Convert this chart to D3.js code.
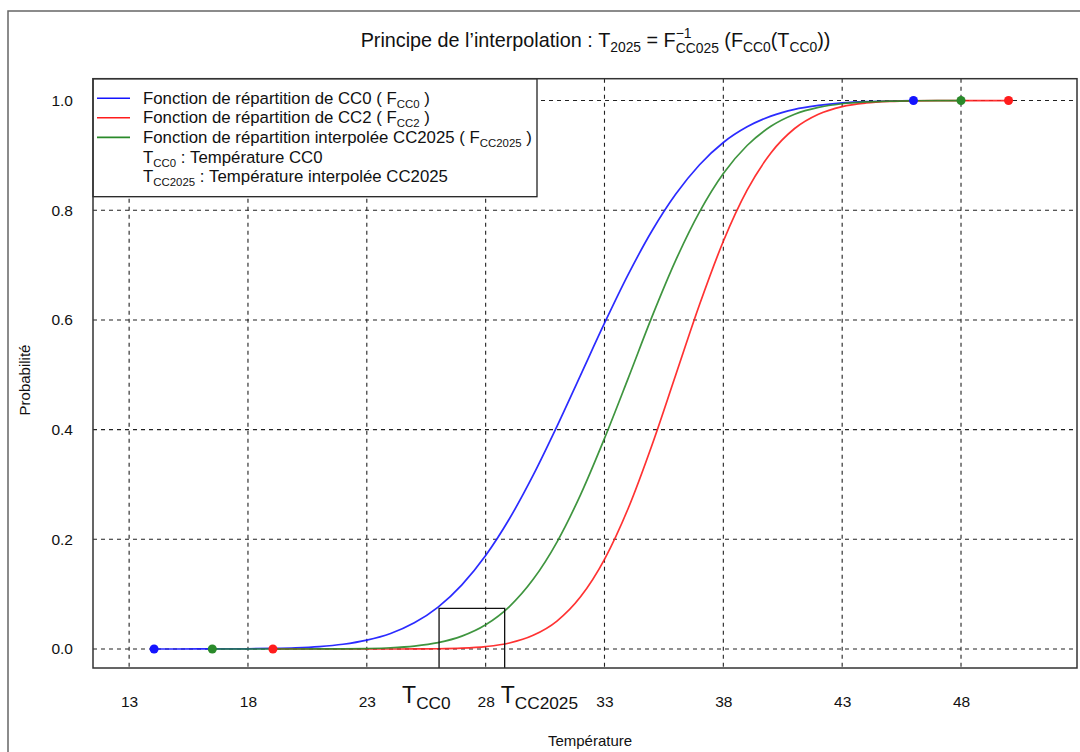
<!DOCTYPE html>
<html>
<head>
<meta charset="utf-8">
<script src="https://cdn.jsdelivr.net/npm/d3@7/dist/d3.min.js"></script>
<style>
  body { margin: 0; background: #fff; }
  text { font-family: "Liberation Sans", Arial, sans-serif; fill: #111; }
</style>
</head>
<body>
<svg id="chart" width="1080" height="752"></svg>
<script>
// values
const xTicks = [13, 18, 23, 28, 33, 38, 43, 48];
const yTicks = [0, 0.2, 0.4, 0.6, 0.8, 1.0];

const tempCC0 = [14.05, 15, 16, 17, 18, 19, 20, 21, 22, 23, 24, 25, 26, 27, 28, 29, 30,
  31, 32, 33, 34, 35, 36, 37, 38, 39, 40, 41, 42, 43, 44, 45, 46];
const probCC0 = [0, 0, 0.0001, 0.0002, 0.0004, 0.0010, 0.0021, 0.0044, 0.0087, 0.0162, 0.0284,
  0.0478, 0.0765, 0.117, 0.1705, 0.2375, 0.317, 0.406, 0.5, 0.594, 0.683, 0.7625, 0.8295,
  0.883, 0.9235, 0.952, 0.9716, 0.984, 0.991, 0.9956, 0.998, 0.999, 1];

const tempCC2025 = [16.5, 17, 18, 19, 20, 21, 22, 23, 24, 25, 26, 27, 28, 29, 30, 31, 32,
  33, 34, 35, 36, 37, 38, 39, 40, 41, 42, 43, 44, 45, 46, 47, 48];
const probCC2025 = [0, 0, 0, 0, 0, 0.0001, 0.0003, 0.0009, 0.0023, 0.0054, 0.0116, 0.0235,
  0.0442, 0.0774, 0.127, 0.195, 0.282, 0.384, 0.494, 0.606, 0.709, 0.797, 0.867, 0.918,
  0.953, 0.975, 0.9875, 0.9941, 0.9974, 0.999, 0.9996, 0.9999, 1];

const tempCC2 = [19.05, 20, 21, 22, 23, 24, 25, 26, 27, 28, 29, 30, 31, 32, 33, 34, 35,
  36, 37, 38, 39, 40, 41, 42, 43, 44, 45, 46, 47, 48, 49, 50];
const probCC2 = [0, 0, 0, 0, 0, 0, 0.0002, 0.0005, 0.0016, 0.0045, 0.011, 0.025, 0.051,
  0.0956, 0.1635, 0.2566, 0.372, 0.5, 0.628, 0.7434, 0.8365, 0.9044, 0.949, 0.975, 0.989,
  0.9955, 0.9984, 0.9995, 0.9998, 1, 1, 1];

const tCC0 = 26.04;       // TCC0
const tCC2025 = 28.8;     // TCC2025
const pLevel = 0.074;     // FCC0(TCC0)

const colBlue = "#1414ff", colRed = "#ff1c1c", colGreen = "#2a8a2a";

const svg = d3.select("#chart");
const plotL = 93, plotR = 1077, plotT = 78.7, plotB = 668;

const x = d3.scaleLinear().domain([11.48, 52.88]).range([plotL, plotR]);
const y = d3.scaleLinear().domain([-0.0346, 1.0398]).range([plotB, plotT]);

// outer frame
svg.append("path")
    .attr("d", `M8,752 L8,11 L1080,11`)
    .attr("fill", "none").attr("stroke", "#666").attr("stroke-width", 1.5);

// helper: a line of text made of pieces (normal / sub / sup), returns the group
function richText(parent, parts, size) {
    const g = parent.append("g");
    let cx = 0, held = 0;
    parts.forEach(function(p) {
        const fs = p.small ? size * p.small : size;
        const t = g.append("text")
            .attr("x", cx)
            .attr("y", p.dy || 0)
            .attr("font-size", fs)
            .text(p.t.replace(/ /g, "\u00a0"));
        const w = t.node().getComputedTextLength();
        if (p.hold) {
            held = w;
        } else {
            cx += Math.max(w, held);
            held = 0;
        }
    });
    g.attr("data-w", cx);
    return g;
}

// title
const title = richText(svg, [
    {t: "Principe de l\u2019interpolation : T"},
    {t: "2025", small: 0.7, dy: 5},
    {t: " = F"},
    {t: "\u22121", small: 0.7, dy: -9, hold: true},
    {t: "CC025", small: 0.7, dy: 6},
    {t: " (F"},
    {t: "CC0", small: 0.7, dy: 5},
    {t: "(T"},
    {t: "CC0", small: 0.7, dy: 5},
    {t: "))"}
], 19.8);
title.attr("transform", `translate(${595.5 - title.attr("data-w") / 2},47)`);

// grid
svg.append("g").selectAll("line")
    .data(xTicks)
    .join("line")
    .attr("x1", d => x(d)).attr("x2", d => x(d))
    .attr("y1", plotT).attr("y2", plotB)
    .attr("stroke", "#222").attr("stroke-width", 1.1).attr("stroke-dasharray", "4,4");

svg.append("g").selectAll("line")
    .data(yTicks)
    .join("line")
    .attr("x1", plotL).attr("x2", plotR)
    .attr("y1", d => y(d)).attr("y2", d => y(d))
    .attr("stroke", "#222").attr("stroke-width", 1.1).attr("stroke-dasharray", "4,4");

// axes
const xAxis = svg.append("g")
    .attr("transform", `translate(0,${plotB})`)
    .call(d3.axisBottom(x).tickValues(xTicks).tickSize(0).tickPadding(28));
xAxis.select(".domain").remove();
xAxis.selectAll("text").attr("font-size", 15.5).attr("fill", "#222")
    .attr("font-family", "Liberation Sans, Arial, sans-serif");

const yAxis = svg.append("g")
    .attr("transform", `translate(${plotL},0)`)
    .call(d3.axisLeft(y).tickValues(yTicks).tickFormat(d3.format(".1f")).tickSize(0).tickPadding(20));
yAxis.select(".domain").remove();
yAxis.selectAll("text").attr("font-size", 15.5).attr("fill", "#222")
    .attr("font-family", "Liberation Sans, Arial, sans-serif");

svg.append("text")
    .attr("x", 590).attr("y", 746)
    .attr("text-anchor", "middle").attr("font-size", 15)
    .text("Température");

svg.append("text")
    .attr("transform", "translate(30,380) rotate(-90)")
    .attr("text-anchor", "middle").attr("font-size", 15)
    .text("Probabilité");

// curves
const line = d3.line()
    .x(d => x(d[0]))
    .y(d => y(d[1]))
    .curve(d3.curveMonotoneX);

const series = [
    {temps: tempCC0, probs: probCC0, color: colBlue},
    {temps: tempCC2, probs: probCC2, color: colRed},
    {temps: tempCC2025, probs: probCC2025, color: colGreen}
];

series.forEach(function(s) {
    const pts = s.temps.map((t, i) => [t, s.probs[i]]);
    svg.append("path")
        .datum(pts)
        .attr("d", line)
        .attr("fill", "none")
        .attr("stroke", s.color)
        .attr("stroke-width", 1.7)
        .attr("stroke-opacity", 0.9);
});

// end points
series.forEach(function(s) {
    const ends = [[s.temps[0], s.probs[0]], [s.temps[s.temps.length - 1], s.probs[s.probs.length - 1]]];
    svg.append("g").selectAll("circle")
        .data(ends)
        .join("circle")
        .attr("cx", d => x(d[0]))
        .attr("cy", d => y(d[1]))
        .attr("r", 4.5)
        .attr("fill", s.color);
});

// interpolation box
svg.append("path")
    .attr("d", `M${x(tCC0)},${plotB} L${x(tCC0)},${y(pLevel)} L${x(tCC2025)},${y(pLevel)} L${x(tCC2025)},${plotB}`)
    .attr("fill", "none").attr("stroke", "#111").attr("stroke-width", 1.3);

// big T labels
const lab1 = richText(svg, [{t: "T"}, {t: "CC0", small: 0.75, dy: 6}], 23);
lab1.attr("transform", `translate(${x(tCC0) - 37},703)`);
const lab2 = richText(svg, [{t: "T"}, {t: "CC2025", small: 0.75, dy: 6}], 23);
lab2.attr("transform", `translate(${x(tCC2025) - 4},703)`);

// legend
const legX = plotL, legY = plotT, legW = 444, legH = 118;
svg.append("rect")
    .attr("x", legX).attr("y", legY).attr("width", legW).attr("height", legH)
    .attr("fill", "#fff").attr("stroke", "#222").attr("stroke-width", 1.3);

const legendRows = [
    {color: colBlue, parts: [{t: "Fonction de répartition de CC0 ( F"}, {t: "CC0", small: 0.68, dy: 4}, {t: " )"}]},
    {color: colRed, parts: [{t: "Fonction de répartition de CC2 ( F"}, {t: "CC2", small: 0.68, dy: 4}, {t: " )"}]},
    {color: colGreen, parts: [{t: "Fonction de répartition interpolée CC2025 ( F"}, {t: "CC2025", small: 0.68, dy: 4}, {t: " )"}]},
    {color: null, parts: [{t: "T"}, {t: "CC0", small: 0.68, dy: 4}, {t: " : Température CC0"}]},
    {color: null, parts: [{t: "T"}, {t: "CC2025", small: 0.68, dy: 4}, {t: " : Température interpolée CC2025"}]}
];

legendRows.forEach(function(r, i) {
    const ry = legY + 19.5 + i * 19.6;
    if (r.color) {
        svg.append("line")
            .attr("x1", legX + 4).attr("x2", legX + 37)
            .attr("y1", ry).attr("y2", ry)
            .attr("stroke", r.color).attr("stroke-width", 1.6);
    }
    const g = richText(svg, r.parts, 16.8);
    g.attr("transform", `translate(${legX + 50},${ry + 5.5})`);
});

// plot border
svg.append("rect")
    .attr("x", plotL).attr("y", plotT).attr("width", plotR - plotL).attr("height", plotB - plotT)
    .attr("fill", "none").attr("stroke", "#333").attr("stroke-width", 1.5);
</script>
</body>
</html>
